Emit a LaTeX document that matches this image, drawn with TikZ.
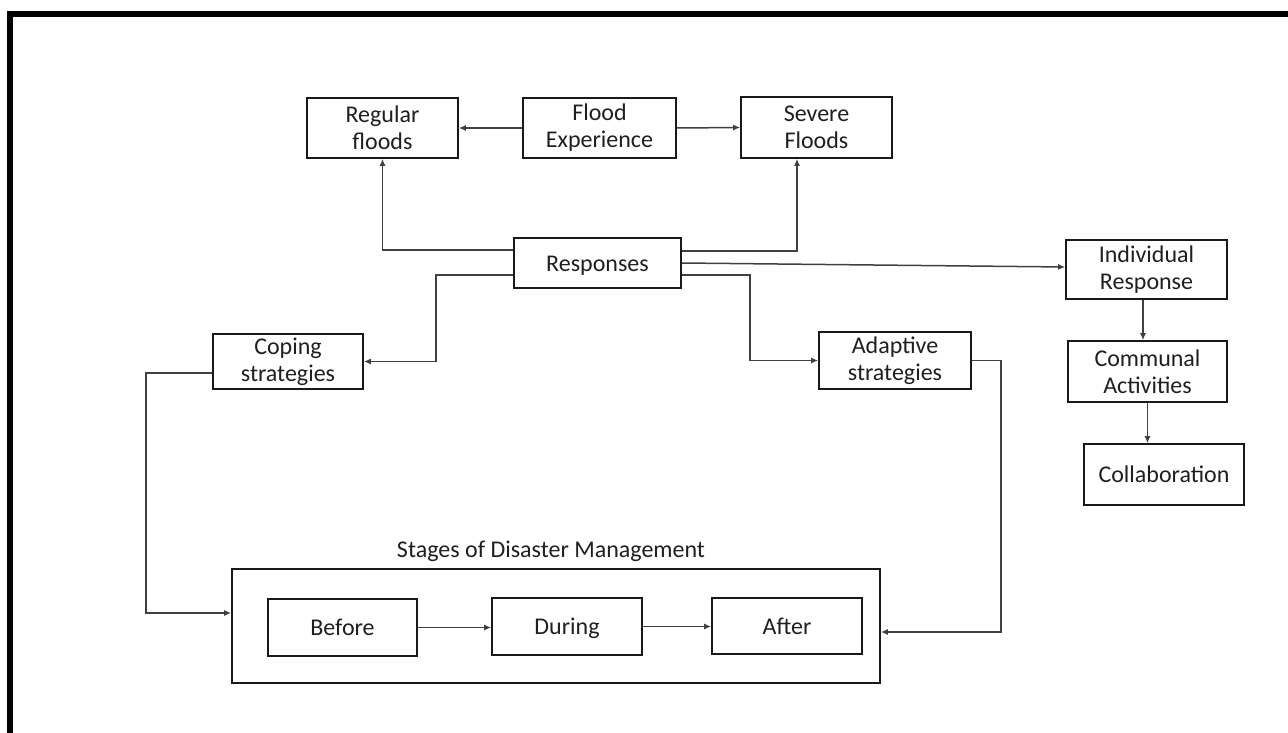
\documentclass[tikz,border=0pt]{standalone}
\usepackage{fontspec}
\setmainfont{Carlito}
\usetikzlibrary{arrows.meta}
\begin{document}
\begin{tikzpicture}[x=1pt,y=-1pt,
  box/.style={draw=black!90, line width=1.6pt, rectangle, inner sep=0pt, align=center,
    font=\fontsize{24}{27}\selectfont, text=black!88},
  single/.style={text height=16pt, text depth=0pt},
  link/.style={draw=black!75, line width=1.5pt, -{Latex[length=7pt,width=6pt]}},
  caption/.style={font=\fontsize{24}{27}\selectfont, text=black!88, inner sep=0pt}]
\useasboundingbox (0,0) rectangle (1288,733);
% frame bars
\fill[black] (7,11) rectangle (13,733);
\fill[black] (7,11) rectangle (1288,17);

% upper row
\node[box, minimum width=151pt, minimum height=60pt] (reg) at (382.5,128) {Regular\\floods};
\node[box, minimum width=153pt, minimum height=60pt] (fexp) at (599.5,128) {Flood\\Experience};
\node[box, minimum width=151pt, minimum height=61pt] (sev) at (816.5,127.5) {Severe\\Floods};

% responses hub
\node[box, single, minimum width=167pt, minimum height=50pt] (resp) at (597.5,263) {Responses};

% strategies
\node[box, minimum width=150pt, minimum height=55pt] (coping) at (288,361.5) {Coping\\strategies};
\node[box, minimum width=152pt, minimum height=57pt] (adapt) at (895,360.5) {Adaptive\\strategies};

% right column
\node[box, minimum width=161pt, minimum height=59pt] (indiv) at (1146.5,269.5) {Individual\\Response};
\node[box, minimum width=159pt, minimum height=61pt] (comm) at (1147.5,371.5) {Communal\\Activities};
\node[box, single, minimum width=160pt, minimum height=61pt] (collab) at (1164,474.5) {Collaboration};

% stages of disaster management
\node[box, minimum width=648pt, minimum height=114pt] (stages) at (556,626) {};
\node[caption, anchor=base] (stagestitle) at (551,557) {Stages of Disaster Management};
\node[box, single, minimum width=149pt, minimum height=57pt] (before) at (342.5,627.5) {Before};
\node[box, single, minimum width=150pt, minimum height=57pt] (during) at (567,626.5) {During};
\node[box, single, minimum width=150pt, minimum height=56pt] (after) at (787,626) {After};

% connectors
\draw[link] (fexp.west) -- (reg.east);
\draw[link] (fexp.east) -- (sev.west);
\draw[link] ([yshift=13pt]resp.west) -| (reg.south);
\draw[link] ([yshift=12pt]resp.east) -| ([xshift=-19.5pt]sev.south);
\draw[link] (resp.east) -- ([yshift=2.5pt]indiv.west);
\draw[link] ([yshift=-12pt]resp.west) -- ++(-77,0) |- (coping.east);
\draw[link] ([yshift=-12pt]resp.east) -- ++(68,0) |- (adapt.west);
\draw[link] ([yshift=-11.5pt]coping.west) -- ++(-66,0) |- ([yshift=13pt]stages.west);
\draw[link] (adapt.east) -- ++(29,0) |- ([yshift=-6pt]stages.east);
\draw[link] ([xshift=-3.5pt]indiv.south) -- ([xshift=-3.5pt]indiv.south |- comm.north);
\draw[link] (comm.south) -- (comm.south |- collab.north);
\draw[link] (before.east) -- (before.east -| during.west);
\draw[link] (during.east) -- (during.east -| after.west);
\end{tikzpicture}
\end{document}
